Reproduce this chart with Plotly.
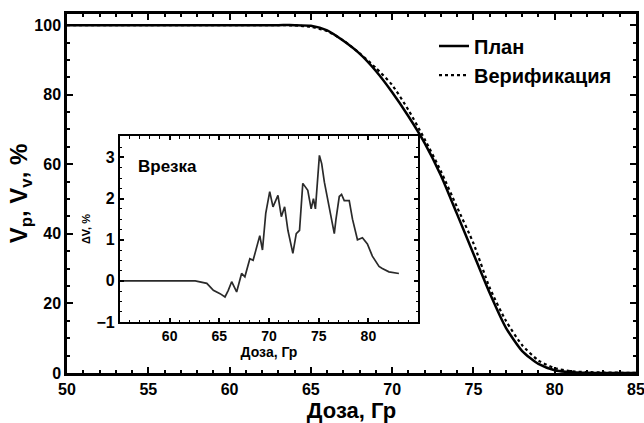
import plotly.graph_objects as go

# Main DVH curves
dose = [50, 55, 60, 63, 64, 65, 66, 67, 68, 69, 70, 71, 72, 73, 74, 75, 76, 77, 78, 79, 80, 81, 82, 83, 84, 85]
vol_plan = [100, 100, 100, 100, 100, 99.8, 98.5, 95.5, 91.8, 86.8, 80.7, 73.8, 66.1, 56.8, 45.6, 34.3, 23.0, 13.0, 6.3, 2.6, 0.8, 0.2, 0.05, 0, 0, 0]
vol_verif = [100, 100, 100, 100, 99.9, 99.5, 98.3, 95.6, 91.9, 87.7, 82.8, 75.6, 67.2, 58.0, 47.6, 37.3, 24.5, 15.0, 8.0, 3.6, 1.4, 0.5, 0.25, 0.15, 0.08, 0.03]

# Inset: difference
dose_inset = [55, 62.57, 63.74, 64.4, 65.07, 65.57, 65.9, 66.24, 66.74, 67.24, 67.57, 68.07, 68.4,
              68.74, 69.07, 69.34, 69.67, 70.07, 70.4, 70.9, 71.24, 71.57, 71.9, 72.4, 72.74,
              73.07, 73.4, 73.9, 74.24, 74.47, 74.67, 75.07, 75.3, 75.57, 76.4, 76.57, 76.74,
              77.07, 77.3, 77.57, 78.07, 78.4, 78.9, 79.4, 79.9, 80.4, 81.07, 81.4, 82.07, 83.07]
delta_v = [0, 0, -0.06, -0.23, -0.31, -0.39, -0.23, -0.02, -0.27, 0.18, 0.1, 0.54, 0.5,
           0.83, 1.1, 0.75, 1.64, 2.17, 1.8, 2.08, 1.56, 1.8, 1.23, 0.67, 1.15,
           1.23, 2.37, 2.2, 1.75, 2.0, 1.75, 3.05, 2.85, 2.4, 1.4, 1.15, 1.5,
           2.05, 2.1, 1.95, 1.95, 1.5, 1.0, 1.05, 0.9, 0.6, 0.35, 0.3, 0.22, 0.18]

main_xticks = [50, 55, 60, 65, 70, 75, 80, 85]
main_yticks = [0, 20, 40, 60, 80, 100]
inset_xticks = [60, 65, 70, 75, 80]
inset_yticks = [-1, 0, 1, 2, 3]

FONT = "Liberation Sans"

fig = go.Figure()
fig.add_trace(go.Scatter(x=dose, y=vol_plan, mode="lines", name="План",
                         line=dict(color="black", width=2.5, shape="spline", smoothing=0.6),
                         xaxis="x", yaxis="y"))
fig.add_trace(go.Scatter(x=dose, y=vol_verif, mode="lines", name="Верификация",
                         line=dict(color="black", width=2.2, dash="3px,3px", shape="spline", smoothing=0.6),
                         xaxis="x", yaxis="y"))
fig.add_trace(go.Scatter(x=dose_inset, y=delta_v, mode="lines", showlegend=False,
                         line=dict(color="#2a2a2a", width=1.7),
                         xaxis="x2", yaxis="y2"))

axis_common = dict(showline=True, linecolor="black", mirror="allticks", ticks="inside",
                   showgrid=False, zeroline=False, tickcolor="black", automargin=False,
                   ticklabeloverflow="allow")

fig.update_layout(
    width=644, height=423,
    autosize=False,
    margin=dict(l=67, r=8, t=14, b=50),
    paper_bgcolor="white", plot_bgcolor="white",
    font=dict(family=FONT, color="black"),
    xaxis=dict(domain=[0, 1], range=[50, 85], tickvals=main_xticks, linewidth=2.5, ticklen=6, tickwidth=2,
               minor=dict(dtick=1, ticks="inside", ticklen=3, tickwidth=1.5, tickcolor="black"),
               tickfont=dict(size=16, weight="bold"),
               title=dict(text="Доза, Гр", font=dict(size=22, weight="bold"), standoff=2),
               anchor="y", **axis_common),
    yaxis=dict(domain=[0, 1], range=[0, 103.2], tickvals=main_yticks, linewidth=2.5, ticklen=6, tickwidth=2,
               minor=dict(dtick=5, ticks="inside", ticklen=3, tickwidth=1.5, tickcolor="black"),
               tickfont=dict(size=16, weight="bold"),
               title=dict(text="V<sub>p</sub>, V<sub>v</sub>, %", font=dict(size=24, weight="bold"), standoff=0),
               anchor="x", **axis_common),
    xaxis2=dict(domain=[0.0931, 0.617], range=[55, 85], tickvals=inset_xticks, linewidth=2, ticklen=4, tickwidth=1.5,
                minor=dict(dtick=1, ticks="inside", ticklen=2.5, tickwidth=1.2, tickcolor="black"),
                tickfont=dict(size=14, weight="bold"),
                title=dict(text="Доза, Гр", font=dict(size=14, weight="bold"), standoff=0),
                anchor="y2", **axis_common),
    yaxis2=dict(domain=[0.142, 0.660], range=[-1, 3.52], tickvals=inset_yticks, linewidth=2, ticklen=4, tickwidth=1.5,
                minor=dict(dtick=0.25, ticks="inside", ticklen=2.5, tickwidth=1.2, tickcolor="black"),
                tickfont=dict(size=16, weight="bold"),
                title=dict(text="ΔV, %", font=dict(size=11, weight="bold"), standoff=4),
                anchor="x2", **axis_common),
    legend=dict(x=0.645, y=0.965, xanchor="left", yanchor="top", bgcolor="rgba(0,0,0,0)",
                font=dict(size=20, weight="bold"), tracegroupgap=0, itemwidth=30),
    annotations=[dict(text="Врезка", x=56.6, y=2.77, xref="x2", yref="y2", xanchor="left", yanchor="middle",
                      showarrow=False, font=dict(size=17, weight="bold"))],
    showlegend=True,
)

fig.write_html("out.html", config={"displayModeBar": False},
               post_script="document.body.style.margin='0';document.body.style.overflow='hidden';")
